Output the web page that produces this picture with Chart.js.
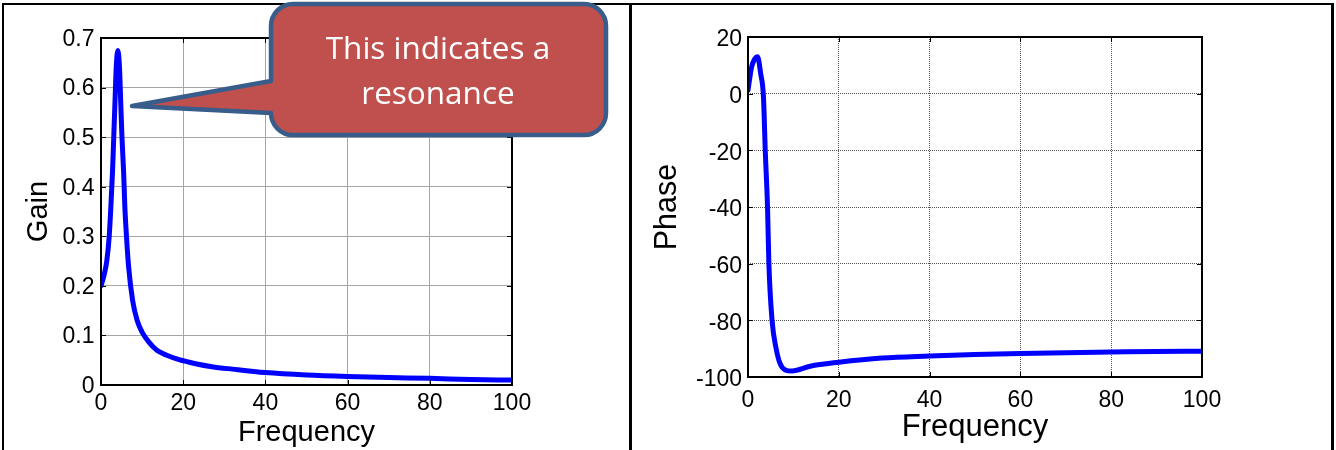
<!DOCTYPE html>
<html>
<head>
<meta charset="utf-8">
<script src="https://cdn.jsdelivr.net/npm/chart.js@4.4.1/dist/chart.umd.min.js"></script>
<style>
  html, body { margin: 0; padding: 0; background: #fff; }
  #wrap { position: relative; width: 1336px; height: 450px; overflow: hidden; background: #fff; }
  canvas { position: absolute; top: 0; }
  #c1 { left: 0; }
  #c2 { left: 632px; }
  .bd { position: absolute; background: #000; z-index: 2; }
  #callout { position: absolute; left: 0; top: 0; z-index: 3; }
</style>
</head>
<body>
<div id="wrap">
  <canvas id="c1" width="632" height="450"></canvas>
  <canvas id="c2" width="704" height="450"></canvas>
  <div class="bd" style="left:2px;top:3px;width:1332px;height:2px;"></div>
  <div class="bd" style="left:2px;top:3px;width:2px;height:447px;"></div>
  <div class="bd" style="left:629px;top:3px;width:3px;height:447px;"></div>
  <div class="bd" style="left:1331px;top:3px;width:3px;height:447px;"></div>
  <svg id="callout" width="640" height="150" viewBox="0 0 640 150">
    <path d="M 293,4 H 584 A 22 22 0 0 1 606,26 V 113 A 22 22 0 0 1 584,135 H 293 A 22 22 0 0 1 271,113 L 132,106 L 271,81 V 26 A 22 22 0 0 1 293,4 Z"
          fill="#C0504D" stroke="#385D8A" stroke-width="4.5" stroke-linejoin="round"/>
    <text x="438" y="59" text-anchor="middle" fill="#fff" font-family="'Open Sans', sans-serif" font-size="31.5">This indicates a</text>
    <text x="438" y="104" text-anchor="middle" fill="#fff" font-family="'Open Sans', sans-serif" font-size="31.5">resonance</text>
  </svg>
</div>
<script>
// ---- Data ----
const gainFreq   = [0, 0.7, 1.4, 2.0, 2.4, 2.8, 3.1, 3.4, 3.7, 4.1, 4.5, 4.8, 5.1, 5.5, 5.8, 6.2, 6.7, 7.7, 8.8, 10.1, 11.5, 13.6, 16, 19, 23, 27, 32, 40, 50, 60, 70, 80, 90, 100];
const gainValues = [0.2, 0.22, 0.25, 0.3, 0.36, 0.43, 0.5, 0.57, 0.64, 0.675, 0.64, 0.57, 0.5, 0.43, 0.36, 0.3, 0.24, 0.17, 0.13, 0.105, 0.088, 0.07, 0.06, 0.051, 0.043, 0.037, 0.032, 0.025, 0.02, 0.017, 0.015, 0.0135, 0.011, 0.01];

const phaseFreq   = [0, 0.8, 1.5, 2.1, 2.8, 3.4, 3.8, 4.3, 4.6, 5.3, 6.2, 7.0, 8.2, 9.7, 13.7, 20, 29.5, 40, 50, 60, 70, 80, 90, 100];
const phaseValues = [1.2, 9.4, 12.3, 13, 7, -1, -20, -40, -60, -80, -90, -95, -97.5, -97.9, -96.2, -94.8, -93.3, -92.6, -92.1, -91.7, -91.4, -91.2, -91, -90.9];

const freqTicks  = { min: 0, max: 100, step: 20 };
const gainTicks  = { min: 0, max: 0.7, step: 0.1 };
const phaseTicks = { min: -100, max: 20, step: 20 };

const xTitle = 'Frequency';
const gainTitle = 'Gain';
const phaseTitle = 'Phase';

// ---- Helpers ----
const FONT = "'Liberation Sans', Arial, sans-serif";

const framePlugin = {
  id: 'frame',
  afterDraw(chart) {
    const { ctx, chartArea: a, scales } = chart;
    const t = 5;
    ctx.save();
    ctx.strokeStyle = '#000';
    ctx.lineWidth = 1;
    ctx.beginPath();
    scales.x.ticks.forEach(tk => {
      const px = Math.round(scales.x.getPixelForValue(tk.value)) + 0.5;
      ctx.moveTo(px, a.bottom); ctx.lineTo(px, a.bottom - t);
      ctx.moveTo(px, a.top); ctx.lineTo(px, a.top + t);
    });
    scales.y.ticks.forEach(tk => {
      const py = Math.round(scales.y.getPixelForValue(tk.value)) + 0.5;
      ctx.moveTo(a.left, py); ctx.lineTo(a.left + t, py);
      ctx.moveTo(a.right, py); ctx.lineTo(a.right - t, py);
    });
    ctx.stroke();
    ctx.lineWidth = 2;
    ctx.strokeRect(Math.round(a.left), Math.round(a.top), Math.round(a.right - a.left), Math.round(a.bottom - a.top));
    ctx.restore();
  }
};

function makeChart(canvasId, xs, ys, yT, cfg) {
  const pts = xs.map((x, i) => ({ x, y: ys[i] }));
  return new Chart(document.getElementById(canvasId), {
    type: 'line',
    data: {
      datasets: [{
        data: pts,
        borderColor: '#0000FF',
        borderWidth: 5,
        pointRadius: 0,
        fill: false,
        cubicInterpolationMode: 'monotone',
        borderCapStyle: 'round',
        borderJoinStyle: 'round'
      }]
    },
    options: {
      responsive: false,
      animation: false,
      events: [],
      layout: { padding: { left: 0, top: cfg.top, right: cfg.right, bottom: 0 } },
      plugins: { legend: { display: false }, tooltip: { enabled: false } },
      scales: {
        x: {
          type: 'linear',
          min: freqTicks.min, max: freqTicks.max,
          afterFit: s => { s.height = cfg.xHeight; },
          ticks: { stepSize: freqTicks.step, color: '#000', padding: cfg.xPad, font: { family: FONT, size: 23 }, maxRotation: 0 },
          grid: { color: cfg.gridColor, drawTicks: false, lineWidth: 1 },
          border: { display: false, dash: cfg.dash },
          title: { display: true, text: xTitle, color: '#000', font: { family: FONT, size: cfg.xTitleSize }, padding: { top: 0, bottom: cfg.xTitlePad } }
        },
        y: {
          type: 'linear',
          min: yT.min, max: yT.max,
          afterFit: s => { s.width = cfg.yWidth; },
          ticks: { stepSize: yT.step, color: '#000', padding: cfg.yPad, labelOffset: cfg.yLabelOffset, font: { family: FONT, size: 23 } },
          grid: { color: cfg.gridColor, drawTicks: false, lineWidth: 1 },
          border: { display: false, dash: cfg.dash },
          title: { display: true, text: cfg.yTitle, color: '#000', font: { family: FONT, size: cfg.yTitleSize }, padding: { top: cfg.yTitlePad, bottom: 0 } }
        }
      }
    },
    plugins: [framePlugin]
  });
}

makeChart('c1', gainFreq, gainValues, gainTicks, {
  top: 38, right: 120, xHeight: 65, yWidth: 101,
  xPad: 5, yPad: 6.5, yLabelOffset: 1.5,
  gridColor: '#a6a6a6', dash: [],
  xTitleSize: 29, xTitlePad: 0, yTitle: gainTitle, yTitleSize: 29, yTitlePad: 21.6
});

makeChart('c2', phaseFreq, phaseValues, phaseTicks, {
  top: 37, right: 134, xHeight: 73, yWidth: 116,
  xPad: 9.5, yPad: 6, yLabelOffset: 3,
  gridColor: '#555555', dash: [1, 1],
  xTitleSize: 31, xTitlePad: 4.4, yTitle: phaseTitle, yTitleSize: 30.5, yTitlePad: 17.7
});
</script>
</body>
</html>
